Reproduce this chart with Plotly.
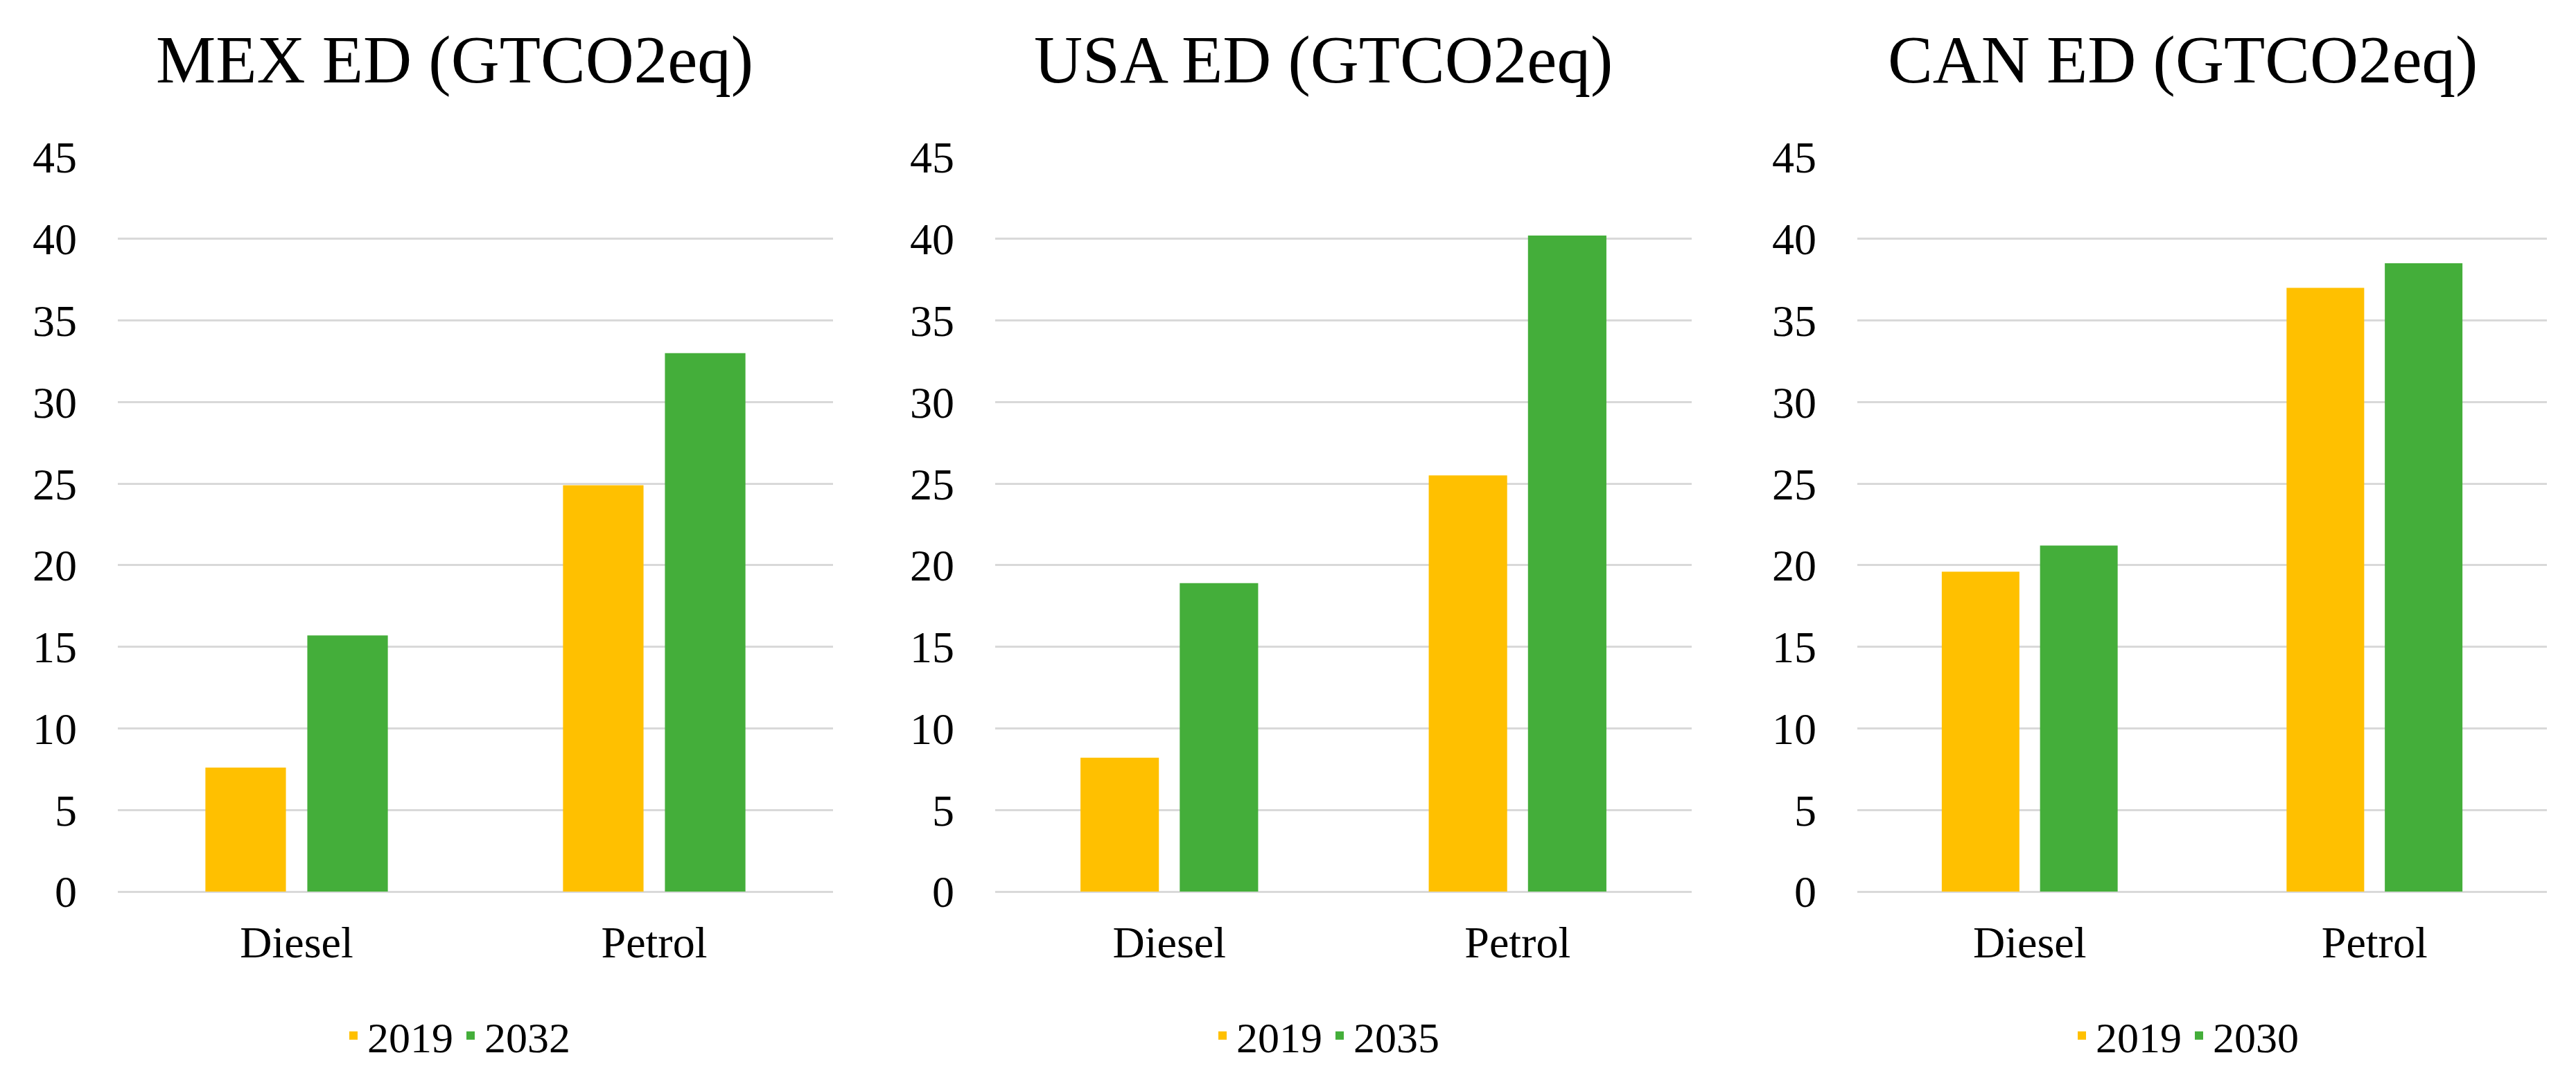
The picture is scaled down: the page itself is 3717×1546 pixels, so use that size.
import plotly.graph_objects as go

# ---------------- data ----------------
categories = ["Diesel", "Petrol"]
panel_titles = ["MEX ED (GTCO2eq)", "USA ED (GTCO2eq)", "CAN ED (GTCO2eq)"]
base_year = "2019"
target_years = ["2032", "2035", "2030"]

mex_2019 = [7.6, 24.9]
mex_2032 = [15.7, 33.0]
usa_2019 = [8.2, 25.5]
usa_2035 = [18.9, 40.2]
can_2019 = [19.6, 37.0]
can_2030 = [21.2, 38.5]

y_tick_vals = [0, 5, 10, 15, 20, 25, 30, 35, 40, 45]

# ---------------- style ----------------
W, H = 3717, 1546
YELLOW = "#FFC000"
GREEN = "#44AE3A"
GRID = "#D9D9D9"
FONT = "Liberation Serif, Times New Roman, serif"

base_series = [mex_2019, usa_2019, can_2019]
target_series = [mex_2032, usa_2035, can_2030]

x_domains = [[162 / W, 1194 / W], [1428 / W, 2433 / W], [2672 / W, 3667 / W]]
y_domain = [(H - 1279) / H, (H - 219) / H]
title_x = [648 / W, 1901 / W, 3141 / W]
legend_x = [651 / W, 1905 / W, 3145 / W]

fig = go.Figure()
for i in range(3):
    sfx = "" if i == 0 else str(i + 1)
    leg = "legend" + sfx
    fig.add_trace(go.Bar(x=categories, y=base_series[i], name=base_year,
                         marker=dict(color=YELLOW, line=dict(width=0)),
                         xaxis="x" + sfx, yaxis="y" + sfx, legend=leg))
    fig.add_trace(go.Bar(x=categories, y=target_series[i], name=target_years[i],
                         marker=dict(color=GREEN, line=dict(width=0)),
                         xaxis="x" + sfx, yaxis="y" + sfx, legend=leg))

layout = dict(
    width=W, height=H,
    margin=dict(l=0, r=0, t=0, b=0, autoexpand=False),
    paper_bgcolor="white", plot_bgcolor="white",
    barmode="group", bargap=0.43, bargroupgap=0.21,
    font=dict(family=FONT, color="black", size=64),
    annotations=[],
)

for i in range(3):
    sfx = "" if i == 0 else str(i + 1)
    layout["xaxis" + sfx] = dict(
        domain=x_domains[i], anchor="y" + sfx, automargin=False,
        showgrid=False, showline=False, zeroline=False,
        ticks="", ticklabelstandoff=30,
        tickfont=dict(family=FONT, size=64, color="black"),
    )
    layout["yaxis" + sfx] = dict(
        domain=y_domain, anchor="x" + sfx, automargin=False,
        range=[0, 45], tickvals=y_tick_vals,
        showgrid=True, gridcolor=GRID, gridwidth=3,
        zeroline=True, zerolinecolor=GRID, zerolinewidth=3,
        showline=False, ticks="", ticklabelstandoff=58,
        tickfont=dict(family=FONT, size=64, color="black"),
    )
    layout["legend" + sfx] = dict(
        orientation="h", x=legend_x[i], y=(H - 1487) / H,
        xanchor="center", yanchor="middle",
        font=dict(family=FONT, size=62, color="black"),
        bgcolor="rgba(0,0,0,0)", traceorder="normal",
    )
    layout["annotations"].append(dict(
        text=panel_titles[i], x=title_x[i], y=(H - 78) / H,
        xref="paper", yref="paper", xanchor="center", yanchor="middle",
        showarrow=False, font=dict(family=FONT, size=97, color="black"),
    ))

fig.update_layout(**layout)
fig.write_html("out.html")
